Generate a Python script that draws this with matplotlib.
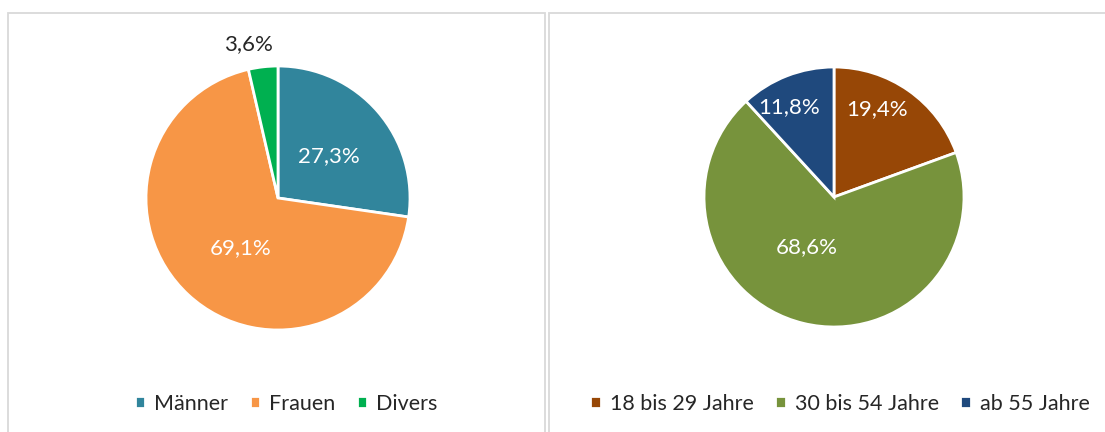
import matplotlib
matplotlib.use("Agg")
import matplotlib.pyplot as plt
from matplotlib.patches import Rectangle
import numpy as np

# Data
gender_labels = ["Männer", "Frauen", "Divers"]
gender_values = [27.3, 69.1, 3.6]
gender_colors = ["#31859C", "#F79646", "#00B050"]

age_labels = ["18 bis 29 Jahre", "30 bis 54 Jahre", "ab 55 Jahre"]
age_values = [19.4, 68.6, 11.8]
age_colors = ["#974706", "#77933C", "#1F497D"]

W, H = 1105, 432
plt.rcParams['font.family'] = ['Lato', 'DejaVu Sans']
fig = plt.figure(figsize=(W / 100, H / 100), dpi=100)
fig.patch.set_facecolor("white")

# panel borders (pixel coords -> figure coords)
def px_rect(x0, y0, x1, y1):
    return Rectangle((x0 / W, 1 - y1 / H), (x1 - x0) / W, (y1 - y0) / H,
                     transform=fig.transFigure, fill=False,
                     edgecolor="#D9D9D9", lw=1.3, zorder=0)

fig.patches.append(px_rect(8, 13, 545, 450))
fig.patches.append(px_rect(549, 13, 1120, 450))


def draw_pie(cx, cy, r, values, colors, labels, dists, txtcolors, legend_center):
    ax = fig.add_axes([(cx - r) / W, (H - cy - r) / H, 2 * r / W, 2 * r / H])
    wedges, _ = ax.pie(values, colors=colors, startangle=90, counterclock=False,
                       radius=1, wedgeprops=dict(edgecolor="white", linewidth=2))
    ax.set_xlim(-1, 1)
    ax.set_ylim(-1, 1)
    ax.set_aspect("equal")
    ax.axis("off")
    for w, v, d, tc in zip(wedges, values, dists, txtcolors):
        dr, ang = d
        ax.text(dr * np.cos(np.deg2rad(ang)), dr * np.sin(np.deg2rad(ang)),
                f"{v:.1f}%".replace(".", ","), ha="center", va="center",
                fontsize=16, color=tc, clip_on=False)
    fig.legend(wedges, labels, loc="center",
               bbox_to_anchor=(legend_center[0] / W, 1 - legend_center[1] / H),
               ncol=3, frameon=False, fontsize=15.5, handlelength=0.5,
               handleheight=0.5, handletextpad=0.4, columnspacing=1.0,
               labelcolor="#262626")
    return ax


# label positions (radius fraction, angle in degrees)
draw_pie(278, 198, 132, gender_values, gender_colors, gender_labels,
         [(0.5, 39.5), (0.47, 233.5), (1.19, 100.7)],
         ["white", "white", "#262626"], (286, 404))
draw_pie(834, 197, 130, age_values, age_colors, age_labels,
         [(0.75, 64.0), (0.44, 241.6), (0.77, 116.6)],
         ["white", "white", "white"], (840, 404))

fig.savefig("out.png", dpi=100, facecolor="white")
